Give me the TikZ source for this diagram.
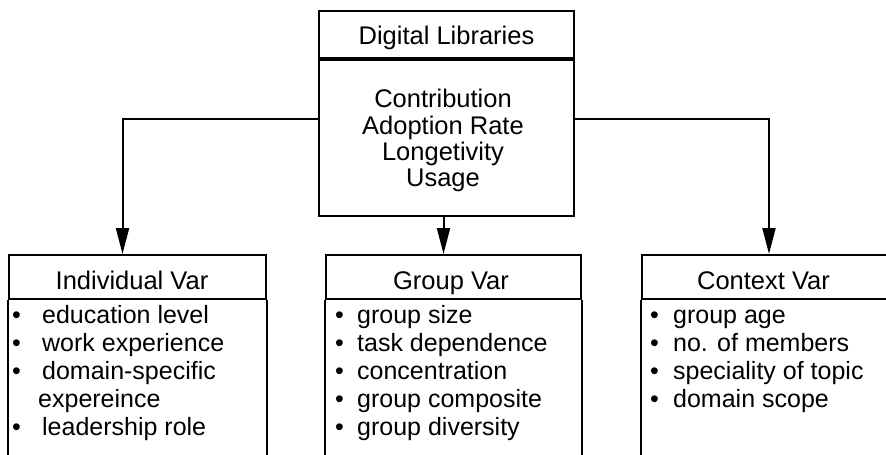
\documentclass[tikz,border=0pt]{standalone}
\usepackage{fontspec}
\setmainfont{Liberation Sans}
\usetikzlibrary{arrows.meta,calc}
% one bullet item: bullet in a box of width #1, then the text
\newcommand\bulletitem[2]{\makebox[#1][l]{•}#2}
\begin{document}
\begin{tikzpicture}[x=1pt,y=-1pt]
\tikzset{
  frame/.style={draw, line width=2pt, inner sep=0pt, anchor=north west},
  headtxt/.style={font=\fontsize{25.5}{26}\selectfont},
  listtxt/.style={font=\fontsize{25}{28}\selectfont, align=left, inner sep=0pt, anchor=north west},
  side/.style={line width=2pt},
  link/.style={line width=2pt, -{Triangle[length=26pt,width=13pt]}},
}
\fill[white] (0,0) rectangle (886,455);
\useasboundingbox (0,0) rectangle (886,455);

% top box: title and outcome measures
\node[frame, headtxt, minimum width=255pt, minimum height=47pt, text height=19pt, text depth=0pt] (dl) at (318,10) {Digital Libraries};
\node[frame, minimum width=255pt, minimum height=156pt] (dlbody) at (dl.south west) {};
\node[headtxt, align=center, anchor=north, inner sep=0pt] (dltxt) at (443,88.8)
  {\strut Contribution\\Adoption Rate\\Longetivity\\Usage};

% lower boxes: headers with open-ended sides
\node[frame, headtxt, minimum width=257pt, minimum height=44pt, text height=24pt, text depth=0pt] (ind) at (8,254) {\hspace*{-11pt}Individual Var};
\node[frame, headtxt, minimum width=255pt, minimum height=44pt, text height=24pt, text depth=0pt] (grp) at (325,254) {\hspace*{-5pt}Group Var};
\node[frame, headtxt, minimum width=270pt, minimum height=44pt, text height=24pt, text depth=0pt] (ctx) at (641,254) {\hspace*{-27pt}Context Var};

\foreach \b in {ind,grp,ctx}{
  \draw[side] (\b.south west) -- ++(0,170);
  \draw[side] (\b.south east) -- ++(0,170);
}

% variable lists
\node[listtxt] (indlist) at (12,303.4) {\strut\bulletitem{30pt}{education level}\\
  \bulletitem{30pt}{work experience}\\
  \bulletitem{30pt}{domain-specific}\\
  \hspace*{26pt}expereince\\
  \bulletitem{30pt}{leadership role}};
\node[listtxt] (grplist) at (335,303.4) {\strut\bulletitem{22pt}{group size}\\
  \bulletitem{22pt}{task dependence}\\
  \bulletitem{22pt}{concentration}\\
  \bulletitem{22pt}{group composite}\\
  \bulletitem{22pt}{group diversity}};
\node[listtxt] (ctxlist) at (650,303.4) {\strut\bulletitem{23pt}{group age}\\
  \bulletitem{23pt}{no. of members}\\
  \bulletitem{23pt}{speciality of topic}\\
  \bulletitem{23pt}{domain scope}};

% connectors
\draw[link] ([yshift=19pt]dlbody.west) -| ([xshift=-15pt]ind.north);
\draw[link] ([xshift=-3pt]dlbody.south) -- ([xshift=-3pt]dlbody.south |- grp.north);
\draw[link] ([yshift=19pt]dlbody.east) -| ([xshift=128pt]ctx.north west);
\end{tikzpicture}
\end{document}
